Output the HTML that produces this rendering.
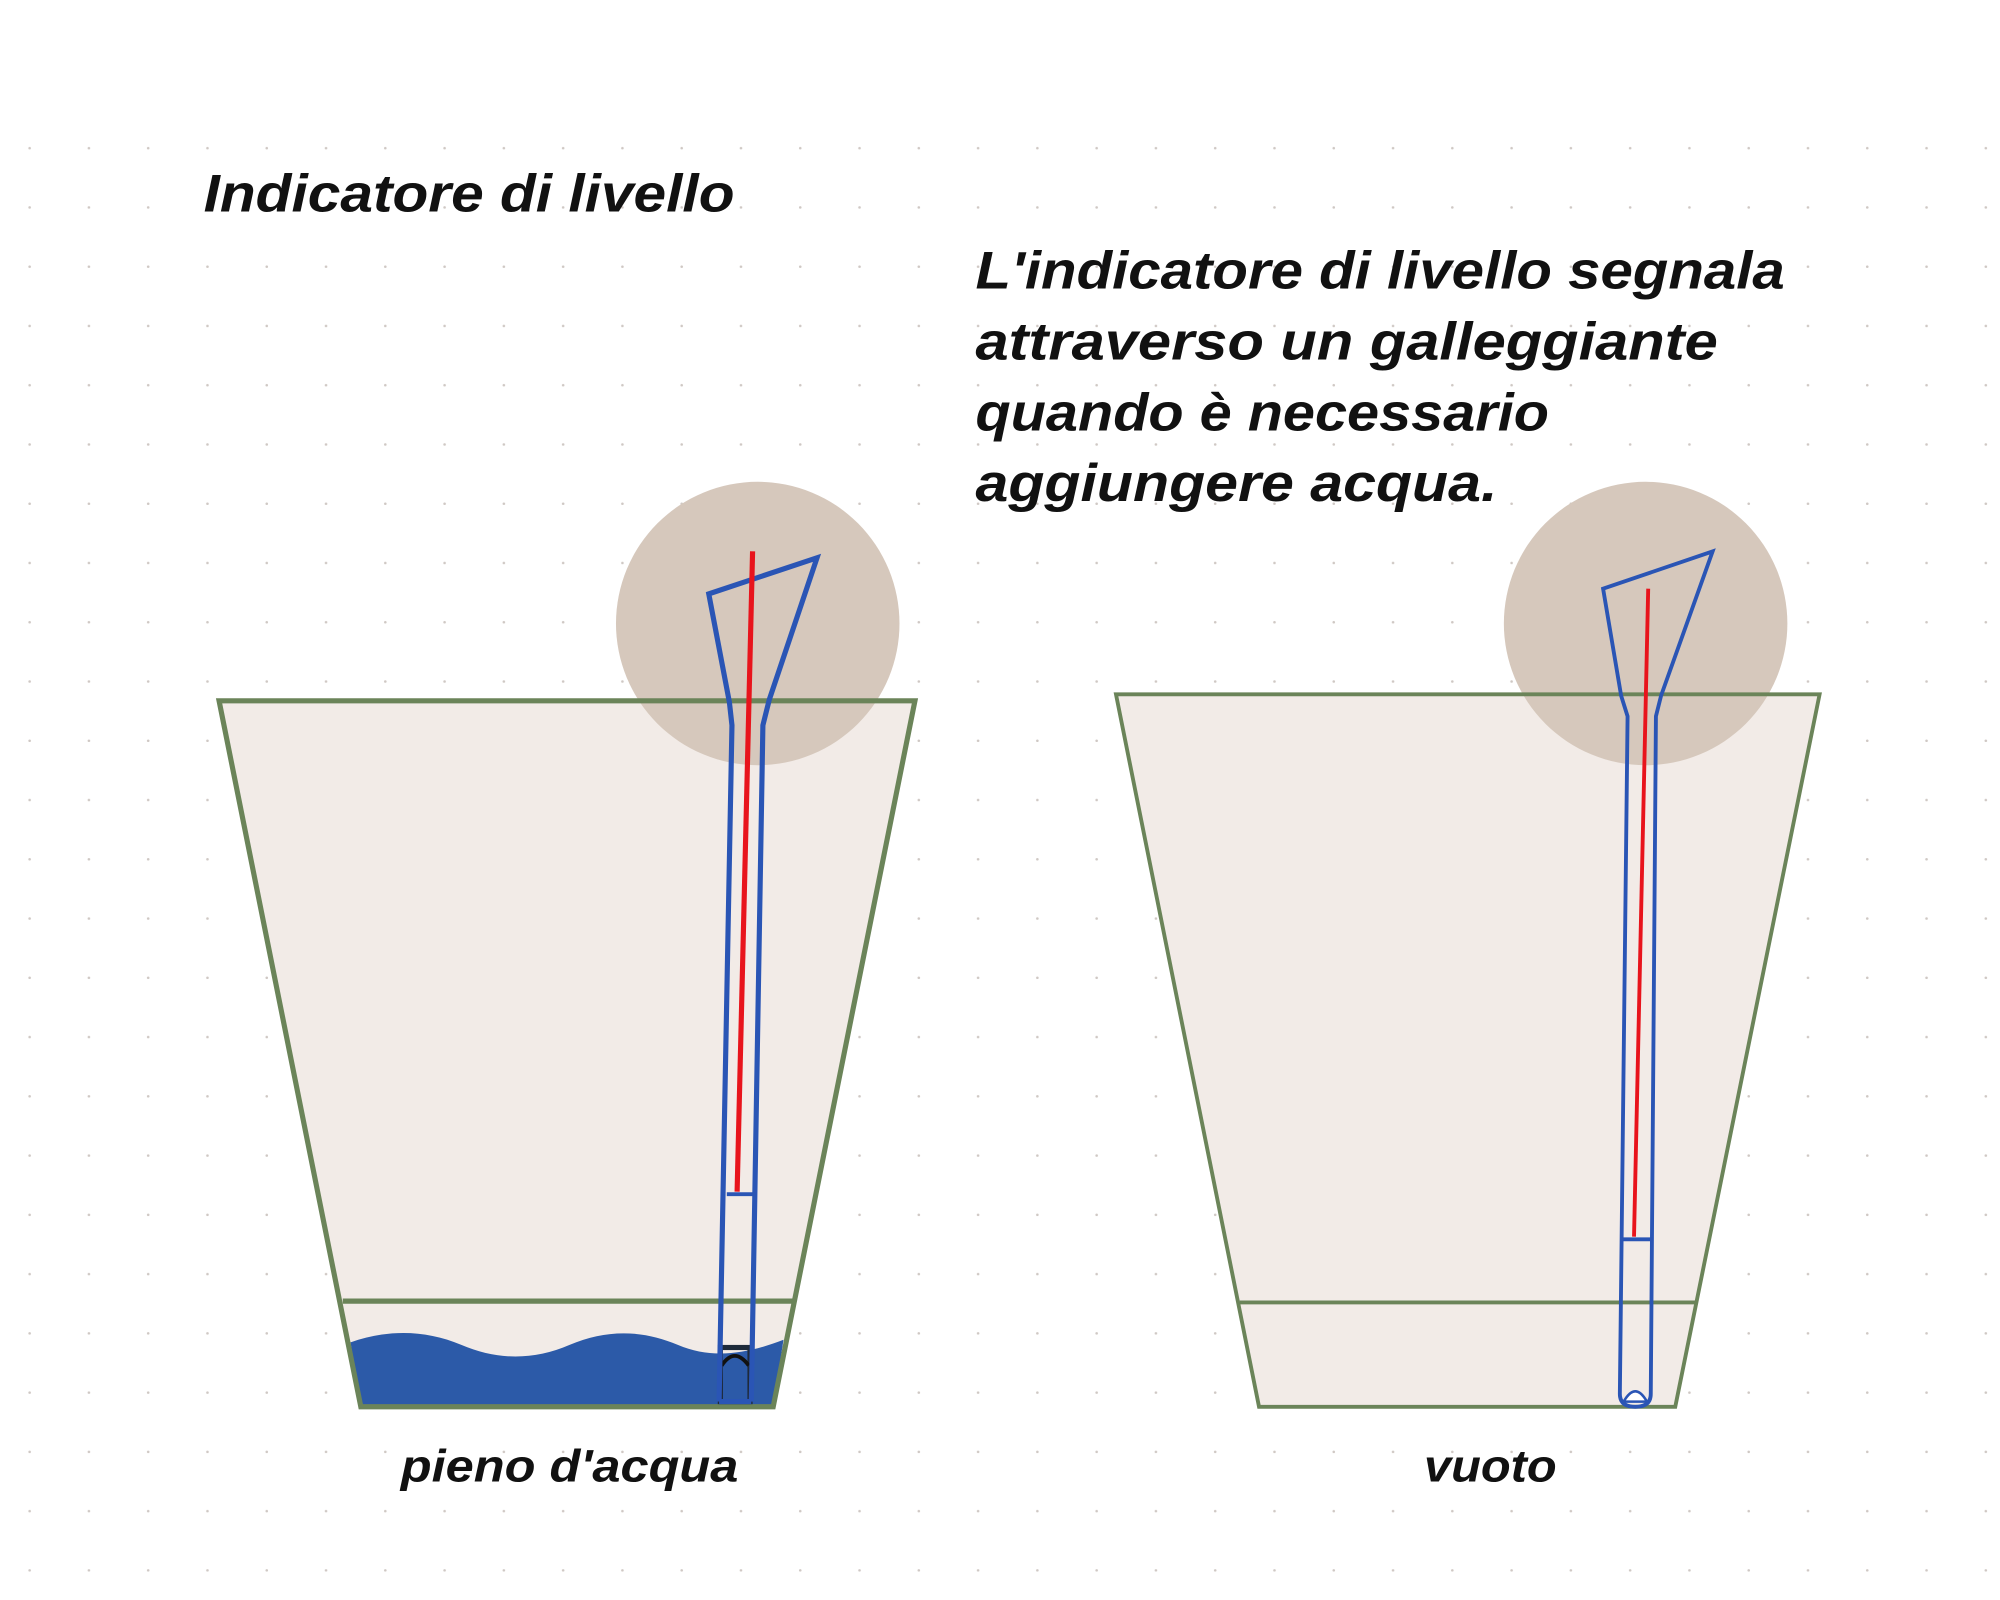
<!DOCTYPE html>
<html><head><meta charset="utf-8"><style>
html,body{margin:0;padding:0;background:#fff;}
svg{display:block;}
text{font-family:"Liberation Sans",sans-serif;font-style:italic;font-weight:bold;fill:#111;}
</style></head><body>
<svg width="2000" height="1600" viewBox="0 0 1552 1242" preserveAspectRatio="none" xmlns="http://www.w3.org/2000/svg">
<defs>
<pattern id="dots" x="0" y="0" width="46" height="46" patternUnits="userSpaceOnUse">
<circle cx="23" cy="23" r="1" fill="#cfc8c4"/>
</pattern>
</defs>
<rect width="1552" height="1242" fill="#fff"/>
<rect x="0" y="80" width="1552" height="1140" fill="url(#dots)"/>
<text x="158" y="164" font-size="41" textLength="412" lengthAdjust="spacingAndGlyphs">Indicatore di livello</text>
<text x="757" y="224" font-size="41" textLength="628" lengthAdjust="spacingAndGlyphs">L'indicatore di livello segnala</text>
<text x="757" y="279" font-size="41" textLength="576" lengthAdjust="spacingAndGlyphs">attraverso un galleggiante</text>
<text x="757" y="334" font-size="41" textLength="445" lengthAdjust="spacingAndGlyphs">quando è necessario</text>
<text x="757" y="389" font-size="41" textLength="405" lengthAdjust="spacingAndGlyphs">aggiungere acqua.</text>

<!-- left pot -->
<polygon points="170,544 710,544 600,1092 280,1092" fill="#f2ebe7"/>
<path d="M272,1042 C300,1032 330,1032 358,1044 C386,1056 414,1056 442,1044 C470,1032 498,1032 526,1044 C554,1056 582,1050 608,1040 L600,1092 L280,1092 Z" fill="#2c5aa8"/>
<circle cx="588" cy="484" r="110" fill="#d6c8bc"/>
<polygon points="170,544 710,544 600,1092 280,1092" fill="none" stroke="#6b8459" stroke-width="4"/>
<line x1="266" y1="1010" x2="615" y2="1010" stroke="#6b8459" stroke-width="4"/>
<rect x="559" y="1046" width="23" height="42" fill="none" stroke="#1e2a3a" stroke-width="4"/>
<path d="M560,1060 Q570,1045 581,1060" fill="none" stroke="#111" stroke-width="3"/>
<polyline points="558,1088 568,563 566,545 550,461 634,433 597,543 592,563 583,1088" fill="none" stroke="#2a55b5" stroke-width="4"/>
<line x1="558" y1="1088" x2="583" y2="1088" stroke="#2a55b5" stroke-width="4"/>
<line x1="584" y1="428" x2="572" y2="925" stroke="#e8141c" stroke-width="4"/>
<line x1="564" y1="927" x2="584" y2="927" stroke="#2a55b5" stroke-width="3"/>

<!-- right pot -->
<polygon points="866,539 1412,539 1300,1092 977,1092" fill="#f2ebe7"/>
<circle cx="1277" cy="484" r="110" fill="#d6c8bc"/>
<polygon points="866,539 1412,539 1300,1092 977,1092" fill="none" stroke="#6b8459" stroke-width="3"/>
<line x1="962" y1="1011" x2="1316" y2="1011" stroke="#6b8459" stroke-width="3"/>
<path d="M1257,1082 L1263,556 L1258,540 L1244,457 L1329,428 L1289,540 L1285,556 L1281,1082 Q1281,1092 1269,1092 Q1257,1092 1257,1082 Z" fill="none" stroke="#2a55b5" stroke-width="3"/>
<path d="M1260,1088 Q1269,1072 1278,1088 Z" fill="#fff" stroke="#2a55b5" stroke-width="2"/>
<line x1="1279" y1="457" x2="1268" y2="960" stroke="#e8141c" stroke-width="3"/>
<line x1="1259" y1="962" x2="1282" y2="962" stroke="#2a55b5" stroke-width="3"/>

<text x="311" y="1150" font-size="35" textLength="262" lengthAdjust="spacingAndGlyphs">pieno d'acqua</text>
<text x="1105" y="1150" font-size="35" textLength="103" lengthAdjust="spacingAndGlyphs">vuoto</text>
</svg>
</body></html>
